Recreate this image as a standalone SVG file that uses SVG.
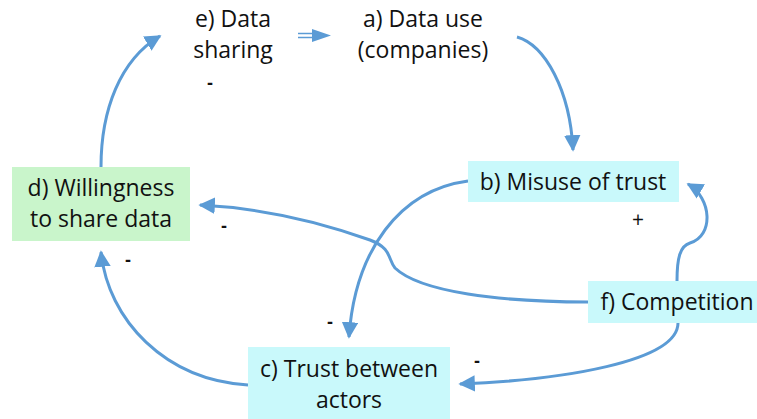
<svg xmlns="http://www.w3.org/2000/svg" width="757" height="419" viewBox="0 0 757 419">
<defs>
<style>
.lbl{font-family:"Open Sans","Liberation Sans",sans-serif;font-size:23px;fill:#111;text-anchor:middle}
.sign{font-family:"Liberation Sans",sans-serif;font-size:18px;font-weight:bold;fill:#111;text-anchor:middle}
.plus{font-family:"Open Sans","Liberation Sans",sans-serif;font-size:21px;fill:#111;text-anchor:middle}
.ln{fill:none;stroke:#5b9bd5;stroke-width:3}
.cyan{fill:#c9f9fb}
.green{fill:#c9f5cb}
</style>
<marker id="ah" viewBox="0 0 10 10" refX="9" refY="5" markerWidth="5.5" markerHeight="5.5" orient="auto" markerUnits="strokeWidth">
<path d="M0,0 L10,5 L0,10 z" fill="#5b9bd5"/>
</marker>
</defs>
<rect width="757" height="419" fill="#fff"/>
<g id="connectors">
<path class="ln" d="M101,167 C101,110 120,60 160,36" marker-end="url(#ah)"/>
<path class="ln" d="M517,37 C545,45 570,90 573,150" marker-end="url(#ah)"/>
<path class="ln" d="M468,181 C400,190 355,250 349,337" marker-end="url(#ah)"/>
<path class="ln" d="M588,302 C500,302 420,292 395,268 C388,260 392,248 370,240 C320,222 260,208 200,205" marker-end="url(#ah)"/>
<path class="ln" d="M677,281 C677,258 680,246 690,243 C714,236 712,198 688,184" marker-end="url(#ah)"/>
<path class="ln" d="M678,323 C678,362 560,380 460,384" marker-end="url(#ah)"/>
<path class="ln" d="M248,385 C165,380 108,320 101,252" marker-end="url(#ah)"/>
<g id="e-to-a">
<line x1="298" y1="33.5" x2="314" y2="33.5" stroke="#5b9bd5" stroke-width="1.5"/>
<line x1="298" y1="37.5" x2="314" y2="37.5" stroke="#5b9bd5" stroke-width="1.5"/>
<path d="M312,29 L331,35.5 L312,42 z" fill="#5b9bd5"/>
</g>
</g>
<g id="node-e">
<text class="lbl" x="233" y="27">e) Data</text>
<text class="lbl" x="233" y="58">sharing</text>
</g>
<g id="node-a">
<text class="lbl" x="423" y="27">a) Data use</text>
<text class="lbl" x="423" y="58">(companies)</text>
</g>
<g id="node-b">
<rect class="cyan" x="468" y="161" width="211" height="41"/>
<text class="lbl" x="573" y="190">b) Misuse of trust</text>
</g>
<g id="node-d">
<rect class="green" x="12" y="167" width="178" height="74"/>
<text class="lbl" x="101" y="196">d) Willingness</text>
<text class="lbl" x="101" y="227">to share data</text>
</g>
<g id="node-c">
<rect class="cyan" x="248" y="347" width="202" height="72"/>
<text class="lbl" x="349" y="377">c) Trust between</text>
<text class="lbl" x="349" y="408">actors</text>
</g>
<g id="node-f">
<rect class="cyan" x="588" y="281" width="169" height="42"/>
<text class="lbl" x="677" y="310">f) Competition</text>
</g>
<g id="signs">
<text class="sign" x="210" y="89">-</text>
<text class="sign" x="224" y="232">-</text>
<text class="sign" x="128" y="266">-</text>
<text class="sign" x="330" y="328">-</text>
<text class="sign" x="477" y="367">-</text>
<text class="plus" x="638" y="227">+</text>
</g>
</svg>
